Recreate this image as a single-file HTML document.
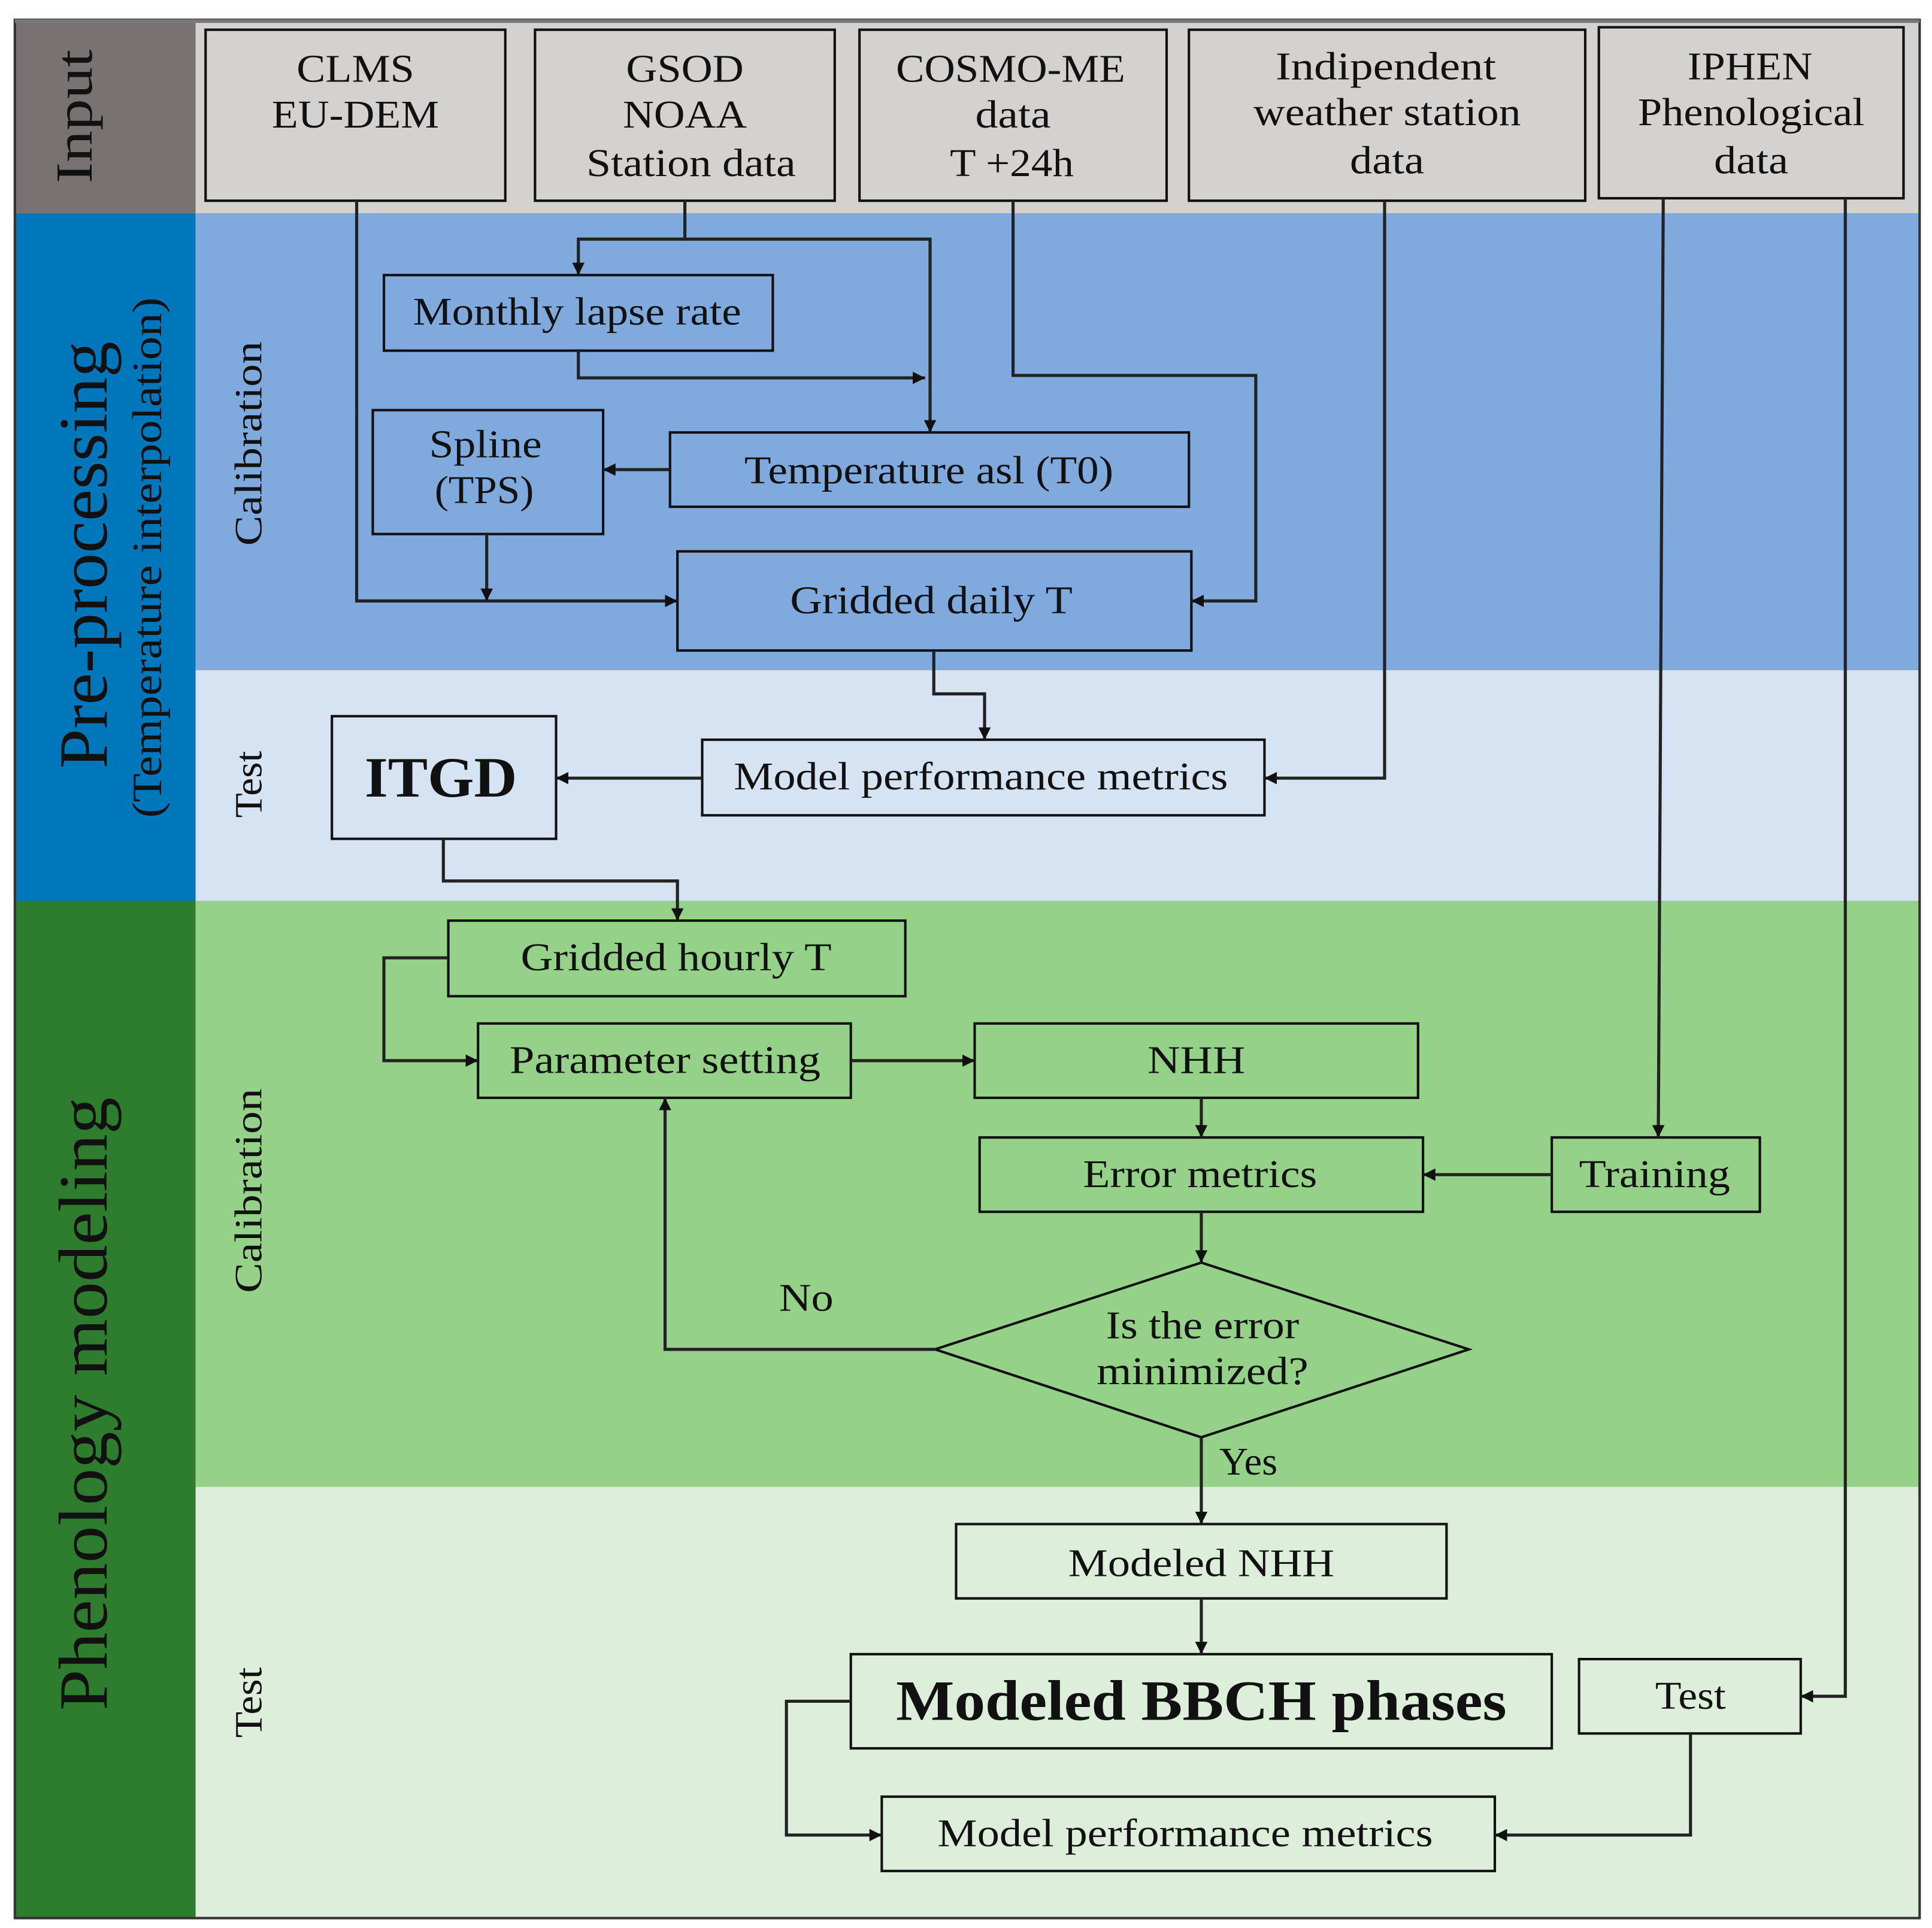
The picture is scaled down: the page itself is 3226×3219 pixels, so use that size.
<!DOCTYPE html>
<html><head><meta charset="utf-8"><style>html,body{margin:0;padding:0;background:#fff}svg{display:block}</style></head>
<body>
<svg width="3226" height="3219" viewBox="0 0 1560 1556" preserveAspectRatio="none" xmlns="http://www.w3.org/2000/svg" font-family="Liberation Serif, serif">
<defs><marker id="a" viewBox="0 0 10 10" refX="10" refY="5" markerWidth="10" markerHeight="10" markerUnits="userSpaceOnUse" orient="auto"><path d="M0,0L10,5L0,10z" fill="#111"/></marker></defs>
<rect x="12" y="16" width="146" height="156" fill="#797272"/>
<rect x="158" y="16" width="1392" height="156" fill="#d3d2d0"/>
<rect x="12" y="172" width="146" height="555" fill="#0076bb"/>
<rect x="158" y="172" width="1392" height="369" fill="#80aadd"/>
<rect x="158" y="541" width="1392" height="186" fill="#d5e3f3"/>
<rect x="12" y="727" width="146" height="821" fill="#2e7d2e"/>
<rect x="158" y="727" width="1392" height="473" fill="#96d189"/>
<rect x="158" y="1200" width="1392" height="348" fill="#ddeedb"/>
<rect x="12" y="16" width="1538" height="1532" fill="none" stroke="#333" stroke-width="2"/>
<line x1="12" y1="17" x2="1550" y2="17" stroke="#777" stroke-width="3"/>
<g fill="#111" text-anchor="middle" lengthAdjust="spacingAndGlyphs">
<text transform="translate(74,94) rotate(-90)" font-size="42" textLength="108" lengthAdjust="spacingAndGlyphs">Input</text>
<text transform="translate(86,448) rotate(-90)" font-size="56" textLength="345" lengthAdjust="spacingAndGlyphs">Pre-processing</text>
<text transform="translate(130,450) rotate(-90)" font-size="34" textLength="420" lengthAdjust="spacingAndGlyphs">(Temperature  interpolation)</text>
<text transform="translate(86,1133) rotate(-90)" font-size="56" textLength="495" lengthAdjust="spacingAndGlyphs">Phenology  modeling</text>
<text transform="translate(211,358) rotate(-90)" font-size="31" textLength="165" lengthAdjust="spacingAndGlyphs">Calibration</text>
<text transform="translate(211,633) rotate(-90)" font-size="31" textLength="54" lengthAdjust="spacingAndGlyphs">Test</text>
<text transform="translate(211,961) rotate(-90)" font-size="31" textLength="165" lengthAdjust="spacingAndGlyphs">Calibration</text>
<text transform="translate(211,1374) rotate(-90)" font-size="31" textLength="57" lengthAdjust="spacingAndGlyphs">Test</text>
</g>
<g fill="none" stroke="#111" stroke-width="2">
<rect x="166" y="24" width="242" height="138"/>
<rect x="432" y="24" width="242" height="138"/>
<rect x="694" y="24" width="248" height="138"/>
<rect x="960" y="24" width="320" height="138"/>
<rect x="1291" y="22" width="246" height="138"/>
<rect x="310" y="222" width="314" height="61"/>
<rect x="301" y="331" width="186" height="100"/>
<rect x="541" y="349" width="419" height="60"/>
<rect x="547" y="445" width="415" height="80"/>
<rect x="268" y="578" width="181" height="99"/>
<rect x="567" y="597" width="454" height="61"/>
<rect x="362" y="743" width="369" height="61"/>
<rect x="386" y="826" width="301" height="60"/>
<rect x="787" y="826" width="358" height="60"/>
<rect x="791" y="918" width="358" height="60"/>
<rect x="1253" y="918" width="168" height="60"/>
<path d="M755,1089L970,1019L1186,1089L970,1160Z"/>
<rect x="772" y="1230" width="396" height="60"/>
<rect x="687" y="1335" width="566" height="76"/>
<rect x="1275" y="1339" width="179" height="60"/>
<rect x="712" y="1450" width="495" height="60"/>
</g>
<g fill="none" stroke="#222" stroke-width="2.5" marker-end="url(#a)">
<path d="M288,162V485H547"/>
<path d="M553,162V193H467V222"/>
<path d="M553,193H751V349"/>
<path d="M467,283V305H747"/>
<path d="M541,379H487"/>
<path d="M393,431V485"/>
<path d="M818,162V303H1014V485H962"/>
<path d="M1118,162V628H1021"/>
<path d="M754,525V560H795V597"/>
<path d="M567,628H449"/>
<path d="M358,677V711H547V743"/>
<path d="M362,773H310V856H386"/>
<path d="M687,856H787"/>
<path d="M970,886V918"/>
<path d="M1253,948H1149"/>
<path d="M970,978V1019"/>
<path d="M755,1089H537V886"/>
<path d="M970,1160V1230"/>
<path d="M970,1290V1335"/>
<path d="M687,1373H635V1481H712"/>
<path d="M1365,1399V1481H1207"/>
<path d="M1343,160L1339,918"/>
<path d="M1490,160V1369H1454"/>
</g>
<g font-size="32" fill="#111" text-anchor="middle">
<text x="287" y="66" textLength="95" lengthAdjust="spacingAndGlyphs">CLMS</text><text x="287" y="103" textLength="135" lengthAdjust="spacingAndGlyphs">EU-DEM</text>
<text x="553" y="66" textLength="95" lengthAdjust="spacingAndGlyphs">GSOD</text><text x="553" y="103" textLength="100" lengthAdjust="spacingAndGlyphs">NOAA</text><text x="558" y="142" textLength="169" lengthAdjust="spacingAndGlyphs">Station data</text>
<text x="816" y="66" textLength="185" lengthAdjust="spacingAndGlyphs">COSMO-ME</text><text x="818" y="103" textLength="61" lengthAdjust="spacingAndGlyphs">data</text><text x="817" y="142" textLength="100" lengthAdjust="spacingAndGlyphs">T +24h</text>
<text x="1119" y="64" textLength="178" lengthAdjust="spacingAndGlyphs">Indipendent</text><text x="1120" y="101" textLength="216" lengthAdjust="spacingAndGlyphs">weather station</text><text x="1120" y="140" textLength="60" lengthAdjust="spacingAndGlyphs">data</text>
<text x="1413" y="64" textLength="101" lengthAdjust="spacingAndGlyphs">IPHEN</text><text x="1414" y="101" textLength="183" lengthAdjust="spacingAndGlyphs">Phenological</text><text x="1414" y="140" textLength="60" lengthAdjust="spacingAndGlyphs">data</text>
<text x="466" y="262" textLength="265" lengthAdjust="spacingAndGlyphs">Monthly lapse rate</text>
<text x="392" y="369" textLength="91" lengthAdjust="spacingAndGlyphs">Spline</text><text x="391" y="406" textLength="80" lengthAdjust="spacingAndGlyphs">(TPS)</text>
<text x="750" y="390" textLength="298" lengthAdjust="spacingAndGlyphs">Temperature asl (T0)</text>
<text x="752" y="495" textLength="228" lengthAdjust="spacingAndGlyphs">Gridded daily T</text>
<text x="356" y="643" font-size="46" font-weight="bold" textLength="123" lengthAdjust="spacingAndGlyphs">ITGD</text>
<text x="792" y="637" textLength="399" lengthAdjust="spacingAndGlyphs">Model performance metrics</text>
<text x="546" y="783" textLength="251" lengthAdjust="spacingAndGlyphs">Gridded hourly T</text>
<text x="537" y="866" textLength="251" lengthAdjust="spacingAndGlyphs">Parameter setting</text>
<text x="966" y="866" textLength="79" lengthAdjust="spacingAndGlyphs">NHH</text>
<text x="969" y="958" textLength="189" lengthAdjust="spacingAndGlyphs">Error metrics</text>
<text x="1336" y="958" textLength="122" lengthAdjust="spacingAndGlyphs">Training</text>
<text x="971" y="1080" textLength="156" lengthAdjust="spacingAndGlyphs">Is the error</text><text x="971" y="1117" textLength="171" lengthAdjust="spacingAndGlyphs">minimized?</text>
<text x="651" y="1058" textLength="44" lengthAdjust="spacingAndGlyphs">No</text>
<text x="1008" y="1190" textLength="47" lengthAdjust="spacingAndGlyphs">Yes</text>
<text x="970" y="1272" textLength="215" lengthAdjust="spacingAndGlyphs">Modeled NHH</text>
<text x="970" y="1388" font-size="46" font-weight="bold" textLength="493" lengthAdjust="spacingAndGlyphs">Modeled BBCH phases</text>
<text x="1365" y="1379" textLength="57" lengthAdjust="spacingAndGlyphs">Test</text>
<text x="957" y="1490" textLength="400" lengthAdjust="spacingAndGlyphs">Model performance metrics</text>
</g>
</svg>
</body></html>
